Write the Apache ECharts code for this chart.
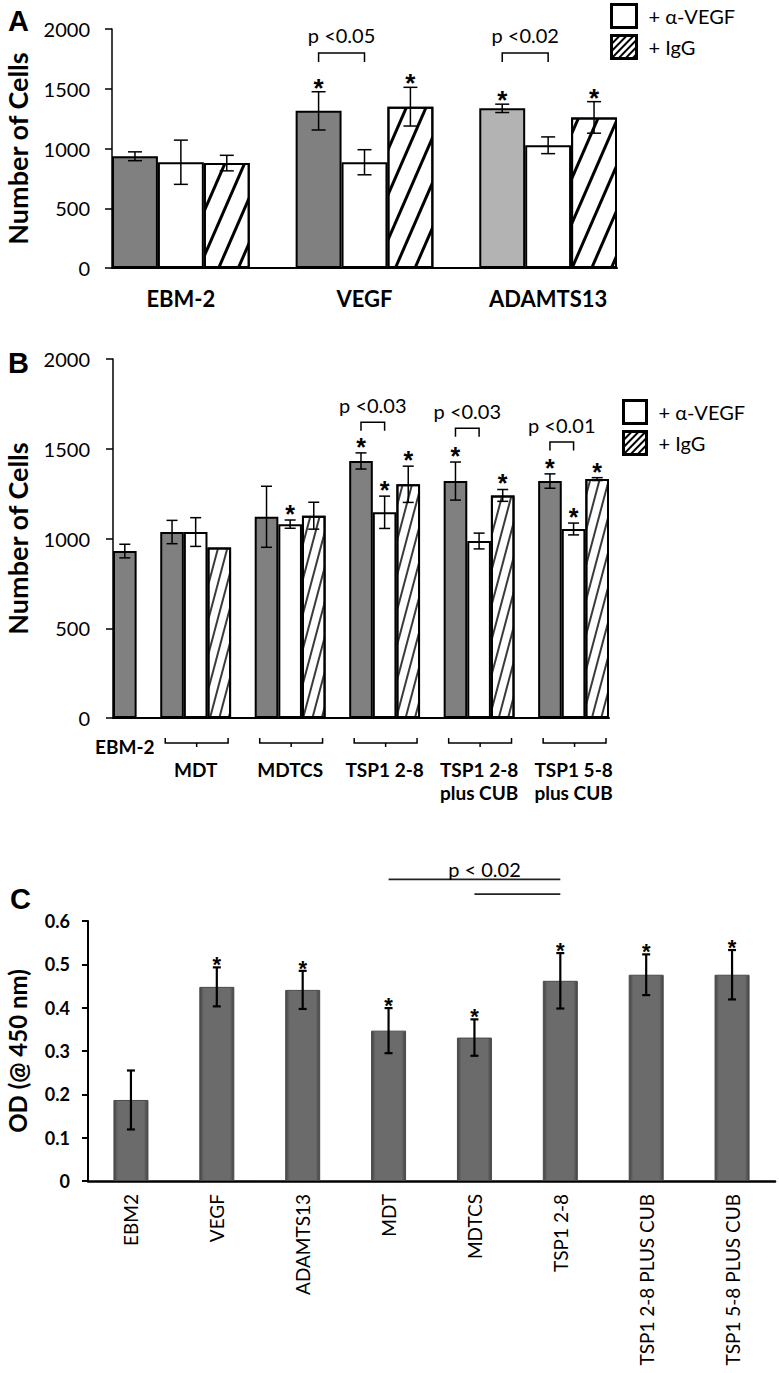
<!DOCTYPE html>
<html><head><meta charset="utf-8">
<script src="https://cdn.jsdelivr.net/npm/echarts@6/dist/echarts.min.js"></script>
<style>html,body{margin:0;padding:0;background:#fff}#c{width:779px;height:1373px}</style>
</head><body><div id="c"></div>
<script>
// ---------- Panel A ----------
const aCategories = ['EBM-2', 'VEGF', 'ADAMTS13'];
const aControl = [935, 1315, 1336];
const aControlErr = [37, 160, 35];
const aAntiVEGF = [885, 885, 1027];
const aAntiVEGFErr = [185, 105, 70];
const aIgG = [878, 1350, 1260];
const aIgGErr = [65, 162, 132];
const aStarControl = [0, 1, 1];
const aStarAntiVEGF = [0, 0, 0];
const aStarIgG = [0, 1, 1];
const aPLabels = ['p <0.05', 'p <0.02'];
const aPGroups = [1, 2];
const aPLevels = [1800, 1800];

// ---------- Panel B ----------
const bCategories = ['EBM-2', 'MDT', 'MDTCS', 'TSP1 2-8', 'TSP1 2-8\nplus CUB', 'TSP1 5-8\nplus CUB'];
const bControl = [930, 1036, 1121, 1432, 1320, 1320];
const bControlErr = [38, 65, 170, 45, 106, 40];
const bAntiVEGF = [null, 1036, 1080, 1146, 986, 1053];
const bAntiVEGFErr = [null, 80, 23, 90, 44, 33];
const bIgG = [null, 950, 1127, 1302, 1240, 1331];
const bIgGErr = [null, 0, 75, 101, 33, 8];
const bStarControl = [0, 0, 0, 1, 1, 1];
const bStarAntiVEGF = [0, 0, 1, 1, 0, 1];
const bStarIgG = [0, 0, 0, 1, 1, 1];
const bPLabels = ['p <0.03', 'p <0.03', 'p <0.01'];
const bPGroups = [3, 4, 5];
const bPLevels = [1647, 1614, 1538];

// ---------- Panel C ----------
const cCategories = ['EBM2', 'VEGF', 'ADAMTS13', 'MDT', 'MDTCS', 'TSP1 2-8', 'TSP1 2-8 PLUS CUB', 'TSP1 5-8 PLUS CUB'];
const cOD = [0.187, 0.448, 0.441, 0.347, 0.331, 0.462, 0.476, 0.476];
const cODErr = [0.068, 0.045, 0.044, 0.052, 0.042, 0.064, 0.047, 0.057];
const cStar = [0, 1, 1, 1, 1, 1, 1, 1];
const cPLabel = 'p < 0.02';
const cPFrom = [3, 4];
const cPTo = [5, 5];
const cPLevels = [0.696, 0.662];

const legendNames = ['+ α-VEGF', '+ IgG'];

// ---------- styles ----------
const FONT = 'Lato';
const STARFONT = 'Liberation Sans';
const aControlColors = ['#808080', '#808080', '#b3b3b3'];
const hatchA = {symbol: 'rect', symbolSize: 1, dashArrayX: [1, 0], dashArrayY: [2.5, 14.5], rotation: -1.16, color: '#000'};
const hatchB = {symbol: 'rect', symbolSize: 1, dashArrayX: [1, 0], dashArrayY: [1.5, 6.3], rotation: -1.31, color: '#3a3a3a'};
const hatchLegend = {symbol: 'rect', symbolSize: 1, dashArrayX: [1, 0], dashArrayY: [1.6, 2.6], rotation: -0.8, color: '#000'};

// lay out bars in slots: each present bar takes a slot, one empty slot between groups
function buildSlots(cats, seriesList) {
  const labels = [];
  const data = seriesList.map(() => []);
  const groups = [];
  cats.forEach((c, gi) => {
    if (gi > 0) { labels.push(''); data.forEach(d => d.push('-')); }
    const start = labels.length;
    const slotOf = [];
    seriesList.forEach((s, si) => {
      if (s[gi] == null) { slotOf.push(null); return; }
      slotOf.push(labels.length);
      labels.push('');
      data.forEach((d, di) => d.push(di === si ? s[gi] : '-'));
    });
    const end = labels.length - 1;
    labels[Math.floor((start + end) / 2)] = c;
    groups.push({start, end, slotOf});
  });
  return {labels, data, groups};
}

function errPoints(slots, si, vals, errs, stars) {
  const pts = [];
  slots.groups.forEach((g, gi) => {
    const s = g.slotOf[si];
    if (s == null) return;
    pts.push([s, vals[gi], errs[gi] || 0, stars[gi] || 0]);
  });
  return pts;
}

function errSeries(xi, yi, pts, capHalf, lw, starSize, starGap) {
  return {
    type: 'custom', xAxisIndex: xi, yAxisIndex: yi, data: pts, clip: false, z: 5, silent: true,
    encode: {x: 0, y: 1},
    renderItem: function (params, api) {
      const x = api.value(0), v = api.value(1), e = api.value(2), st = api.value(3);
      const children = [];
      const top = api.coord([x, v + e]);
      if (e > 0) {
        const bot = api.coord([x, v - e]);
        const ls = {stroke: '#000', lineWidth: lw};
        children.push({type: 'line', shape: {x1: top[0], y1: top[1], x2: bot[0], y2: bot[1]}, style: ls});
        children.push({type: 'line', shape: {x1: top[0] - capHalf, y1: top[1], x2: top[0] + capHalf, y2: top[1]}, style: ls});
        children.push({type: 'line', shape: {x1: bot[0] - capHalf, y1: bot[1], x2: bot[0] + capHalf, y2: bot[1]}, style: ls});
      }
      if (st) {
        children.push({type: 'text', x: top[0], y: top[1] - starGap,
          style: {text: '*', fill: '#000', font: 'bold ' + starSize + 'px "' + STARFONT + '"', align: 'center', verticalAlign: 'middle'}});
      }
      return {type: 'group', children};
    }
  };
}

function pBracketSeries(xi, yi, slots, groupsIdx, levels, labels, tick, textGap, fontSize) {
  const data = groupsIdx.map((g, i) => [slots.groups[g].slotOf[0], slots.groups[g].slotOf[1], levels[i], i]);
  return {
    type: 'custom', xAxisIndex: xi, yAxisIndex: yi, data, clip: false, z: 6, silent: true,
    encode: {x: [0, 1], y: 2},
    renderItem: function (params, api) {
      const a = api.coord([api.value(0), api.value(2)]);
      const b = api.coord([api.value(1), api.value(2)]);
      const lbl = labels[api.value(3)];
      return {type: 'group', children: [
        {type: 'polyline', shape: {points: [[a[0], a[1] + tick], [a[0], a[1]], [b[0], b[1]], [b[0], b[1] + tick]]},
          style: {stroke: '#000', lineWidth: 1.5, fill: null}},
        {type: 'text', x: (a[0] + b[0]) / 2, y: a[1] - textGap,
          style: {text: lbl, fill: '#000', font: fontSize + 'px ' + FONT, align: 'center', verticalAlign: 'middle'}}
      ]};
    }
  };
}

const aSlots = buildSlots(aCategories, [aControl, aAntiVEGF, aIgG]);
const bSlots = buildSlots(bCategories, [bControl, bAntiVEGF, bIgG]);

// per-item colour for panel A control bars
const aControlData = aSlots.data[0].slice();
aSlots.groups.forEach((g, gi) => {
  const s = g.slotOf[0];
  aControlData[s] = {value: aControl[gi], itemStyle: {color: aControlColors[gi]}};
});

function barSeries(name, xi, yi, data, color, decal) {
  const is = {color: color, borderColor: '#000', borderWidth: 2};
  if (decal) is.decal = decal;
  return {type: 'bar', name, xAxisIndex: xi, yAxisIndex: yi, data, barCategoryGap: '0%', barGap: '-100%',
    itemStyle: is, emphasis: {disabled: true}, silent: true, z: 2};
}

const bBracketData = bSlots.groups.filter(g => g.end > g.start).map(g => [g.start, g.end, 0]);

const yAxisCommon = {
  type: 'value', min: 0, splitLine: {show: false},
  axisLine: {show: true, lineStyle: {color: '#000', width: 1.5}},
  axisTick: {show: true, inside: false, length: 7, lineStyle: {color: '#000', width: 1.5}},
  nameLocation: 'middle', nameRotate: 90
};

const cBarColor = new echarts.graphic.LinearGradient(0, 0, 1, 0, [
  {offset: 0, color: '#444'}, {offset: 0.12, color: '#6b6b6b'},
  {offset: 0.88, color: '#6b6b6b'}, {offset: 1, color: '#444'}]);

const legendText = {fontFamily: FONT, fontSize: 20, color: '#000', padding: [0, 0, 0, 7]};
function legendData() {
  return [
    {name: legendNames[0], itemStyle: {color: '#fff', borderColor: '#000', borderWidth: 3}},
    {name: legendNames[1], itemStyle: {color: '#fff', borderColor: '#000', borderWidth: 3, decal: hatchLegend}}
  ];
}
const plainNum = function (v) { return String(v); };

const option = {
  animation: false,
  backgroundColor: '#fff',
  title: [
    {text: 'A', left: 3, top: 1, textStyle: {fontFamily: 'Liberation Sans', fontWeight: 'bold', fontSize: 29, color: '#000'}},
    {text: 'B', left: 3, top: 343, textStyle: {fontFamily: 'Liberation Sans', fontWeight: 'bold', fontSize: 29, color: '#000'}},
    {text: 'C', left: 5, top: 879, textStyle: {fontFamily: 'Liberation Sans', fontWeight: 'bold', fontSize: 29, color: '#000'}}
  ],
  legend: [
    {data: legendData(), left: 610, top: 3, padding: 0, orient: 'vertical', itemWidth: 25, itemHeight: 23, itemGap: 5,
      icon: 'rect', selectedMode: false, textStyle: legendText},
    {data: legendData(), left: 622, top: 399, padding: 0, orient: 'vertical', itemWidth: 23, itemHeight: 23, itemGap: 5,
      icon: 'rect', selectedMode: false, textStyle: legendText}
  ],
  grid: [
    {left: 112, top: 29, width: 505, height: 239, outerBoundsMode: 'none'},
    {left: 113, top: 359, width: 496, height: 359, outerBoundsMode: 'none'},
    {left: 88, top: 921, width: 687, height: 260, outerBoundsMode: 'none'}
  ],
  xAxis: [
    {type: 'category', gridIndex: 0, data: aSlots.labels, boundaryGap: true,
      axisLine: {lineStyle: {color: '#000', width: 2}}, axisTick: {show: false},
      axisLabel: {interval: 0, margin: 19, color: '#000', fontFamily: FONT, fontWeight: 'bold', fontSize: 22}},
    {type: 'category', gridIndex: 1, data: bSlots.labels, boundaryGap: true,
      axisLine: {lineStyle: {color: '#000', width: 2}}, axisTick: {show: false},
      axisLabel: {interval: 0, margin: 17, color: '#000', fontFamily: FONT, fontWeight: 'bold', fontSize: 19, lineHeight: 23,
        formatter: function (v, i) { return v === '' ? '' : (i === 0 ? v : '\n' + v); }}},
    {type: 'category', gridIndex: 2, data: cCategories, boundaryGap: true,
      axisLine: {lineStyle: {color: '#000', width: 2.5}}, axisTick: {show: false},
      axisLabel: {interval: 0, rotate: 90, margin: 13, color: '#000', fontFamily: FONT, fontSize: 19}}
  ],
  yAxis: [
    Object.assign({}, yAxisCommon, {gridIndex: 0, max: 2000, interval: 500, name: 'Number of Cells', nameGap: 81,
      nameTextStyle: {fontFamily: FONT, fontWeight: 'bold', fontSize: 27, color: '#000'},
      axisLabel: {margin: 22, color: '#000', fontFamily: FONT, fontSize: 20, formatter: plainNum}}),
    Object.assign({}, yAxisCommon, {gridIndex: 1, max: 2000, interval: 500, name: 'Number of Cells', nameGap: 82,
      nameTextStyle: {fontFamily: FONT, fontWeight: 'bold', fontSize: 27, color: '#000'},
      axisLabel: {margin: 23, color: '#000', fontFamily: FONT, fontSize: 20, formatter: plainNum}}),
    Object.assign({}, yAxisCommon, {gridIndex: 2, max: 0.6, interval: 0.1, name: 'OD (@ 450 nm)', nameGap: 59,
      axisLine: {show: true, lineStyle: {color: '#000', width: 2}},
      axisTick: {show: true, inside: false, length: 6, lineStyle: {color: '#000', width: 2}},
      nameTextStyle: {fontFamily: FONT, fontWeight: 'bold', fontSize: 24, color: '#000'},
      axisLabel: {margin: 18, color: '#000', fontFamily: FONT, fontWeight: 'bold', fontSize: 18,
        formatter: function (v) { return v === 0 ? '0' : v.toFixed(1); }}})
  ],
  series: [
    barSeries('Control A', 0, 0, aControlData, '#808080'),
    barSeries(legendNames[0], 0, 0, aSlots.data[1], '#fff'),
    barSeries(legendNames[1], 0, 0, aSlots.data[2], '#fff', hatchA),
    errSeries(0, 0, errPoints(aSlots, 0, aControl, aControlErr, aStarControl), 7, 1.5, 26, 4),
    errSeries(0, 0, errPoints(aSlots, 1, aAntiVEGF, aAntiVEGFErr, aStarAntiVEGF), 7, 1.5, 26, 4),
    errSeries(0, 0, errPoints(aSlots, 2, aIgG, aIgGErr, aStarIgG), 7, 1.5, 26, 4),
    pBracketSeries(0, 0, aSlots, aPGroups, aPLevels, aPLabels, 9, 18, 20),

    barSeries('Control B', 1, 1, bSlots.data[0], '#808080'),
    barSeries(legendNames[0], 1, 1, bSlots.data[1], '#fff'),
    barSeries(legendNames[1], 1, 1, bSlots.data[2], '#fff', hatchB),
    errSeries(1, 1, errPoints(bSlots, 0, bControl, bControlErr, bStarControl), 5.5, 1.5, 25, 6),
    errSeries(1, 1, errPoints(bSlots, 1, bAntiVEGF, bAntiVEGFErr, bStarAntiVEGF), 5.5, 1.5, 25, 6),
    errSeries(1, 1, errPoints(bSlots, 2, bIgG, bIgGErr, bStarIgG), 5.5, 1.5, 25, 6),
    pBracketSeries(1, 1, bSlots, bPGroups, bPLevels, bPLabels, 8.5, 17, 20),
    {
      type: 'custom', xAxisIndex: 1, yAxisIndex: 1, data: bBracketData, clip: false, silent: true, z: 5,
      encode: {x: [0, 1], y: 2},
      renderItem: function (params, api) {
        const p0 = api.coord([api.value(0), 0]);
        const p1 = api.coord([api.value(1), 0]);
        const w = api.size([1, 0])[0];
        const l = p0[0] - w / 2 + 5, r = p1[0] + w / 2 - 3, y = p0[1] + 25, m = (l + r) / 2;
        const ls = {stroke: '#000', lineWidth: 1.5, fill: null};
        return {type: 'group', children: [
          {type: 'polyline', shape: {points: [[l, y - 5], [l, y], [r, y], [r, y - 5]]}, style: ls},
          {type: 'line', shape: {x1: m, y1: y, x2: m, y2: y + 4}, style: ls}
        ]};
      }
    },

    {type: 'bar', name: 'OD', xAxisIndex: 2, yAxisIndex: 2, data: cOD, barWidth: 35, silent: true,
      itemStyle: {color: cBarColor, borderColor: '#4a4a4a', borderWidth: 1}, emphasis: {disabled: true}},
    errSeries(2, 2, cOD.map((v, i) => [i, v, cODErr[i], cStar[i]]), 4, 2.2, 22, 2.5),
    {
      type: 'custom', xAxisIndex: 2, yAxisIndex: 2, clip: false, silent: true, z: 6,
      data: cPFrom.map((f, i) => [f, cPTo[i], cPLevels[i], i]),
      encode: {x: [0, 1], y: 2},
      renderItem: function (params, api) {
        const a = api.coord([api.value(0), api.value(2)]);
        const b = api.coord([api.value(1), api.value(2)]);
        const children = [{type: 'line', shape: {x1: a[0], y1: a[1], x2: b[0], y2: b[1]}, style: {stroke: '#222', lineWidth: 1.6}}];
        if (api.value(3) === 0) {
          children.push({type: 'text', x: (a[0] + b[0]) / 2 + 10, y: a[1] - 10,
            style: {text: cPLabel, fill: '#000', font: '20px ' + FONT, align: 'center', verticalAlign: 'middle'}});
        }
        return {type: 'group', children};
      }
    }
  ]
};

const chart = echarts.init(document.getElementById('c'), null, {renderer: 'svg', width: 779, height: 1373});
chart.setOption(option);
</script>
</body></html>
